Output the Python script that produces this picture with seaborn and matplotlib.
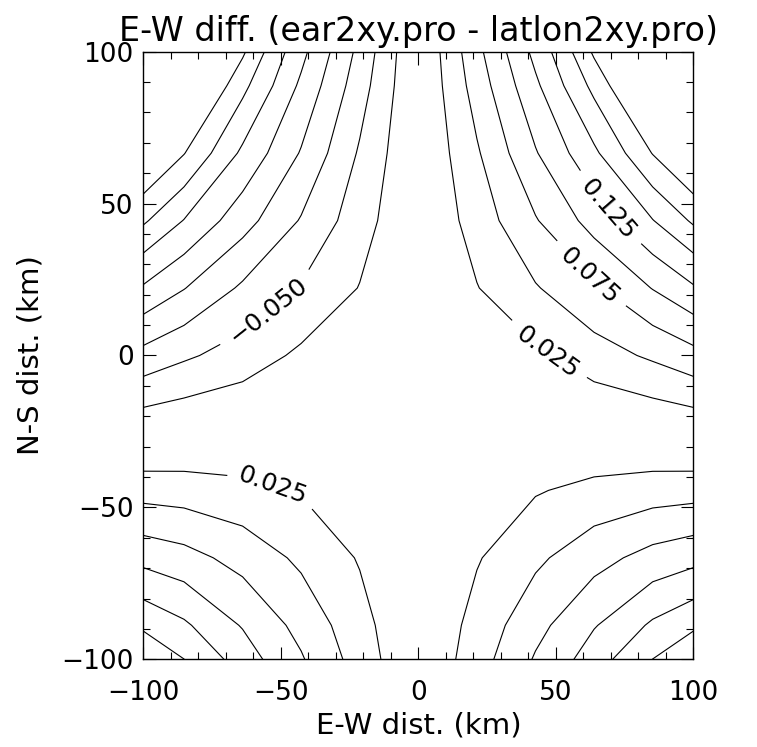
import numpy as np
import pandas as pd
import matplotlib
matplotlib.use("Agg")
import matplotlib.pyplot as plt
from matplotlib.ticker import MultipleLocator
import seaborn as sns

x_km = [-106.5, -85.2, -63.9, -42.6, -21.3, 0.0, 21.3, 42.6, 63.9, 85.2, 106.5]
y_km = [-111.0, -88.8, -66.6, -44.4, -22.2, 0.0, 22.2, 44.4, 66.6, 88.8, 111.0]

# E-W difference (km) at the nodes, one row per y value
diff_rows = [
    [0.211, 0.171, 0.132, 0.088, 0.046, 0.0, -0.046, -0.088, -0.132, -0.171, -0.211],
    [0.154, 0.129, 0.098, 0.067, 0.034, 0.0, -0.034, -0.067, -0.098, -0.129, -0.154],
    [0.097, 0.084, 0.066, 0.045, 0.023, 0.0, -0.023, -0.045, -0.066, -0.084, -0.097],
    [0.041, 0.038, 0.032, 0.023, 0.011, 0.0, -0.011, -0.023, -0.032, -0.038, -0.041],
    [-0.015, -0.008, -0.003, 0.001, -0.001, 0.0, 0.001, -0.001, 0.003, 0.008, 0.015],
    [-0.074, -0.054, -0.039, -0.020, -0.012, 0.0, 0.012, 0.020, 0.039, 0.054, 0.074],
    [-0.132, -0.101, -0.071, -0.048, -0.024, 0.0, 0.024, 0.048, 0.071, 0.101, 0.132],
    [-0.192, -0.149, -0.110, -0.073, -0.036, 0.0, 0.036, 0.073, 0.110, 0.149, 0.192],
    [-0.250, -0.201, -0.145, -0.098, -0.047, 0.0, 0.047, 0.098, 0.145, 0.201, 0.250],
    [-0.308, -0.249, -0.182, -0.120, -0.061, 0.0, 0.061, 0.120, 0.182, 0.249, 0.308],
    [-0.365, -0.300, -0.226, -0.145, -0.076, 0.0, 0.076, 0.145, 0.226, 0.300, 0.365],
]

levels = [-0.2, -0.175, -0.15, -0.125, -0.1, -0.075, -0.05, -0.025,
          0.025, 0.05, 0.075, 0.1, 0.125, 0.15, 0.175, 0.2]
label_levels = [-0.05, 0.025, 0.075, 0.125]
label_spots = [(-55, 15), (46, 0), (62, 26), (69, 48), (-53, -43)]

sns.set_style("ticks")
plt.rcParams['font.family'] = ['DejaVu Sans']
plt.rcParams['text.color'] = 'black'
plt.rcParams['axes.labelcolor'] = 'black'

df = pd.DataFrame(diff_rows, index=y_km, columns=x_km)
X, Y, Z = df.columns.values, df.index.values, df.values

fig = plt.figure(figsize=(7.57, 7.47), dpi=100)
ax = fig.add_axes([0.1893, 0.1174, 0.7266, 0.8134])

plain = [l for l in levels if l not in label_levels]
ax.contour(X, Y, Z, levels=plain, colors='black', linewidths=0.8,
           linestyles='solid')
# labelled levels go in their own set so clabel can place them by hand
cs = ax.contour(X, Y, Z, levels=label_levels, colors='black', linewidths=0.8,
                linestyles='solid')


def fmt(v):
    return ('%.3f' % v).replace('-', '\u2212')


ax.clabel(cs, manual=label_spots, inline=True, inline_spacing=8,
          fontsize=18, fmt=fmt)

ax.set_xlim(-100, 100)
ax.set_ylim(-100, 100)
ax.set_xticks([-100, -50, 0, 50, 100])
ax.set_yticks([-100, -50, 0, 50, 100])
ax.xaxis.set_minor_locator(MultipleLocator(10))
ax.yaxis.set_minor_locator(MultipleLocator(10))
ax.tick_params(which='both', direction='in', top=True, right=True,
               width=0.8, color='black', labelsize=19, labelcolor='black')
ax.tick_params(which='major', length=9)
ax.tick_params(which='minor', length=5)
ax.tick_params(axis='x', which='major', pad=15)
ax.tick_params(axis='y', which='major', pad=7)
for s in ax.spines.values():
    s.set_linewidth(1.0)
    s.set_color('black')

ax.set_title('E-W diff. (ear2xy.pro - latlon2xy.pro)', fontsize=24, pad=8)
ax.set_xlabel('E-W dist. (km)', fontsize=21, labelpad=4)
ax.set_ylabel('N-S dist. (km)', fontsize=21, labelpad=12)

fig.savefig('out.png', dpi=100)
